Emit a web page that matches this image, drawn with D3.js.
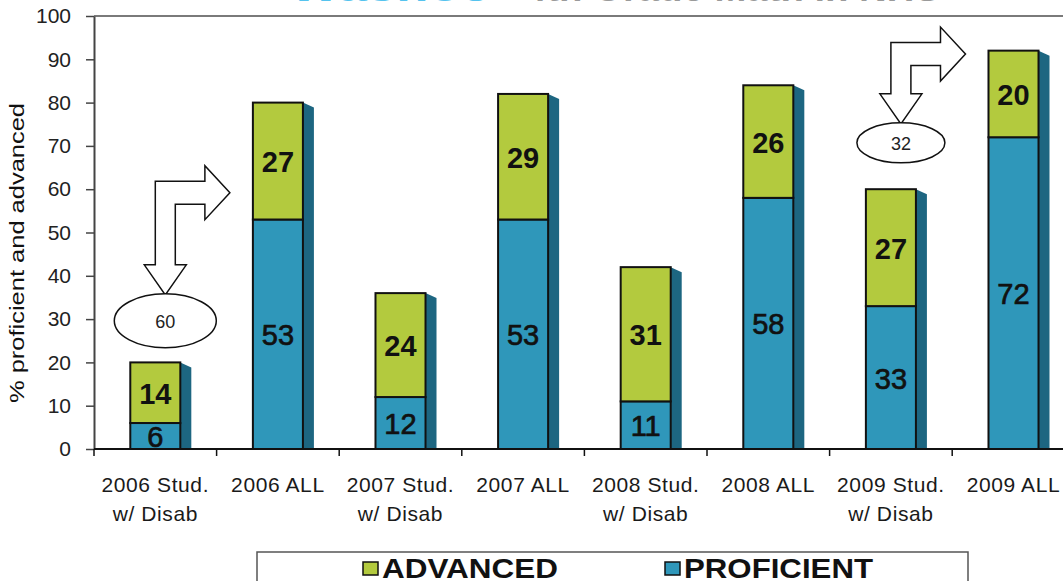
<!DOCTYPE html>
<html>
<head>
<meta charset="utf-8">
<script src="https://cdn.jsdelivr.net/npm/d3@7"></script>
<style>
  body { margin: 0; background: #fff; }
  svg { display: block; font-family: Arial, "Liberation Sans", sans-serif; }
</style>
</head>
<body>
<svg id="chart" width="1063" height="581"></svg>
<script>
// values
let categories = [
  "2006 Stud.|w/ Disab", "2006 ALL",
  "2007 Stud.|w/ Disab", "2007 ALL",
  "2008 Stud.|w/ Disab", "2008 ALL",
  "2009 Stud.|w/ Disab", "2009 ALL"
];
let proficient = [6, 53, 12, 53, 11, 58, 33, 72];
let advanced   = [14, 27, 24, 29, 31, 26, 27, 20];
let yTicks = [0, 10, 20, 30, 40, 50, 60, 70, 80, 90, 100];
let seriesNames = ["ADVANCED", "PROFICIENT"];

// gap callouts: from the disabled bar to the ALL bar of the same year
let gapFrom   = ["2006 Stud.|w/ Disab", "2009 Stud.|w/ Disab"];
let gapTo     = ["2006 ALL", "2009 ALL"];
let gapValues = [60, 32];
let gapOvalLevel  = [29.6, 70.7];
let gapArrowLevel = [59.2, 91.2];

let colors = { ADVANCED: "#b3ca3e", PROFICIENT: "#2f97ba" },
    shadeColor = "#1d6681";

let svg = d3.select('#chart'),
    plotLeft = 94,
    plotTop = 16,
    plotBottom = 449,
    bandStep = 122.6;

let x = d3.scaleBand()
  .domain(categories)
  .range([plotLeft, plotLeft + bandStep * categories.length])
  .padding(0);

let y = d3.scaleLinear()
  .domain([0, 100])
  .range([plotBottom, plotTop]);

let barW = x.bandwidth() * 0.408,
    depth = 11,
    slant = 5;

// title (almost entirely cut off at the top of the picture)
svg.append('text')
  .attr('x', 290).attr('y', 1)
  .attr('font-size', 40)
  .attr('font-weight', 'bold')
  .attr('fill', '#55c3ee')
  .attr('textLength', 200)
  .attr('lengthAdjust', 'spacingAndGlyphs')
  .text('Washoe');
svg.append('text')
  .attr('x', 525).attr('y', 1)
  .attr('font-size', 40)
  .attr('font-weight', 'bold')
  .attr('fill', '#9a9a9a')
  .attr('textLength', 415)
  .attr('lengthAdjust', 'spacingAndGlyphs')
  .text('4th Grade Math in NHS');

// top frame line
svg.append('line')
  .attr('x1', plotLeft).attr('x2', x.range()[1])
  .attr('y1', y(100)).attr('y2', y(100))
  .attr('stroke', '#7a7a7a')
  .attr('stroke-width', 2);

// y axis
let yAxis = svg.append('g')
  .attr('transform', `translate(${plotLeft},0)`)
  .call(d3.axisLeft(y).tickValues(yTicks).tickSize(8).tickSizeOuter(0).tickPadding(15));
yAxis.select('.domain').attr('stroke', '#444').attr('stroke-width', 2);
yAxis.selectAll('.tick line').attr('stroke', '#444').attr('stroke-width', 1.5);
yAxis.selectAll('.tick text')
  .attr('font-size', 21)
  .attr('font-family', 'Arial, "Liberation Sans", sans-serif')
  .attr('fill', '#222');

svg.append('text')
  .attr('transform', `translate(24,253) rotate(-90)`)
  .attr('text-anchor', 'middle')
  .attr('font-size', 21)
  .attr('fill', '#111')
  .attr('textLength', 300)
  .attr('lengthAdjust', 'spacingAndGlyphs')
  .text('% proficient and advanced');

// stacked data
let rows = categories.map(function (c, i) {
  return { cat: c, proficient: proficient[i], advanced: advanced[i] };
});
let stack = d3.stack().keys(['proficient', 'advanced'])(rows);

// side shading (3D depth)
svg.append('g').selectAll('path')
  .data(rows)
  .join('path')
  .attr('d', function (d) {
    let x1 = x(d.cat) + (x.bandwidth() - barW) / 2 + barW,
        top = y(d.proficient + d.advanced);
    return `M${x1},${top} L${x1 + depth},${top + slant} L${x1 + depth},${y(0)} L${x1},${y(0)} Z`;
  })
  .attr('fill', shadeColor);

// bar segments
let segColor = { proficient: colors.PROFICIENT, advanced: colors.ADVANCED };
let layers = svg.append('g').selectAll('g')
  .data(stack)
  .join('g')
  .attr('fill', function (s) { return segColor[s.key]; });

layers.selectAll('rect')
  .data(function (s) { return s; })
  .join('rect')
  .attr('x', function (d) { return x(d.data.cat) + (x.bandwidth() - barW) / 2; })
  .attr('y', function (d) { return y(d[1]); })
  .attr('width', barW)
  .attr('height', function (d) { return y(d[0]) - y(d[1]); })
  .attr('stroke', '#111')
  .attr('stroke-width', 2);

// segment values
layers.each(function (s) {
  d3.select(this).selectAll('text')
    .data(s)
    .join('text')
    .attr('x', function (d) { return x(d.data.cat) + x.bandwidth() / 2; })
    .attr('y', function (d) { return (y(d[0]) + y(d[1])) / 2 + 1; })
    .attr('text-anchor', 'middle')
    .attr('dominant-baseline', 'central')
    .attr('font-size', 29)
    .attr('font-weight', s.key == 'advanced' ? 'bold' : 'normal')
    .attr('fill', '#111')
    .attr('stroke', s.key == 'advanced' ? 'none' : '#111')
    .attr('stroke-width', 0.7)
    .text(function (d) { return d[1] - d[0]; });
});

// x axis
svg.append('line')
  .attr('x1', plotLeft).attr('x2', x.range()[1])
  .attr('y1', y(0)).attr('y2', y(0))
  .attr('stroke', '#111')
  .attr('stroke-width', 2);

svg.append('g').selectAll('line')
  .data(categories)
  .join('line')
  .attr('x1', function (c) { return x(c); })
  .attr('x2', function (c) { return x(c); })
  .attr('y1', y(0)).attr('y2', y(0) + 7)
  .attr('stroke', '#111')
  .attr('stroke-width', 1.5);

let xLabels = svg.append('g').selectAll('text')
  .data(categories)
  .join('text')
  .attr('text-anchor', 'middle')
  .attr('font-size', 21)
  .attr('letter-spacing', 0.6)
  .attr('fill', '#1a1a1a');

xLabels.selectAll('tspan')
  .data(function (c) { return c.split('|').map(function (t) { return { c: c, t: t }; }); })
  .join('tspan')
  .attr('x', function (d) { return x(d.c) + x.bandwidth() / 2; })
  .attr('y', function (d, i) { return y(0) + 43 + i * 29; })
  .text(function (d) { return d.t; });

// gap callouts: bent arrow + oval
let bentArrow = function (sx, turnY, tipY, endX) {
  let sw = 10,      // half shaft width (vertical)
      hw = 11.5,    // half shaft width (horizontal)
      headHalf = 21,
      headLen = 30,
      rHeadHalf = 27,
      rHeadLen = 25,
      baseY = tipY - headLen,
      baseX = endX - rHeadLen;
  return [
    [sx - sw, turnY - hw],
    [baseX, turnY - hw],
    [baseX, turnY - rHeadHalf],
    [endX, turnY],
    [baseX, turnY + rHeadHalf],
    [baseX, turnY + hw],
    [sx + sw, turnY + hw],
    [sx + sw, baseY],
    [sx + headHalf, baseY],
    [sx, tipY],
    [sx - headHalf, baseY],
    [sx - sw, baseY]
  ].map(function (p) { return p.join(','); }).join(' ');
};

gapValues.forEach(function (v, i) {
  let cx = x(gapFrom[i]) + x.bandwidth() / 2 + 10,
      cy = y(gapOvalLevel[i]),
      ry = i == 0 ? 27 : 20,
      rx = i == 0 ? 51 : 44,
      nextLeft = x(gapTo[i]) + (x.bandwidth() - barW) / 2;

  svg.append('polygon')
    .attr('points', bentArrow(cx, y(gapArrowLevel[i]), cy - ry + 1, nextLeft - 23))
    .attr('fill', '#fff')
    .attr('stroke', '#111')
    .attr('stroke-width', 1.5);

  svg.append('ellipse')
    .attr('cx', cx).attr('cy', cy)
    .attr('rx', rx).attr('ry', ry)
    .attr('fill', '#fff')
    .attr('stroke', '#111')
    .attr('stroke-width', 1.5);

  svg.append('text')
    .attr('x', cx).attr('y', cy + 1)
    .attr('text-anchor', 'middle')
    .attr('dominant-baseline', 'central')
    .attr('font-size', 18)
    .attr('fill', '#222')
    .text(v);
});

// legend
svg.append('path')
  .attr('d', 'M257,585 L257,552 L968,552 L968,585')
  .attr('fill', 'none')
  .attr('stroke', '#555')
  .attr('stroke-width', 1.5);

let lx = d3.scaleBand().domain(seriesNames).range([363, 967]);

let legend = svg.append('g').selectAll('g')
  .data(seriesNames)
  .join('g')
  .attr('transform', function (s) { return `translate(${lx(s)},0)`; });

legend.append('rect')
  .attr('x', 0).attr('y', 562)
  .attr('width', 15).attr('height', 13)
  .attr('fill', function (s) { return colors[s]; })
  .attr('stroke', '#111')
  .attr('stroke-width', 1.5);

legend.append('text')
  .attr('x', 19).attr('y', 578)
  .attr('font-size', 28)
  .attr('font-weight', 'bold')
  .attr('fill', '#111')
  .attr('textLength', function (s) { return s == 'ADVANCED' ? 176 : 189; })
  .attr('lengthAdjust', 'spacingAndGlyphs')
  .text(function (s) { return s; });
</script>
</body>
</html>
